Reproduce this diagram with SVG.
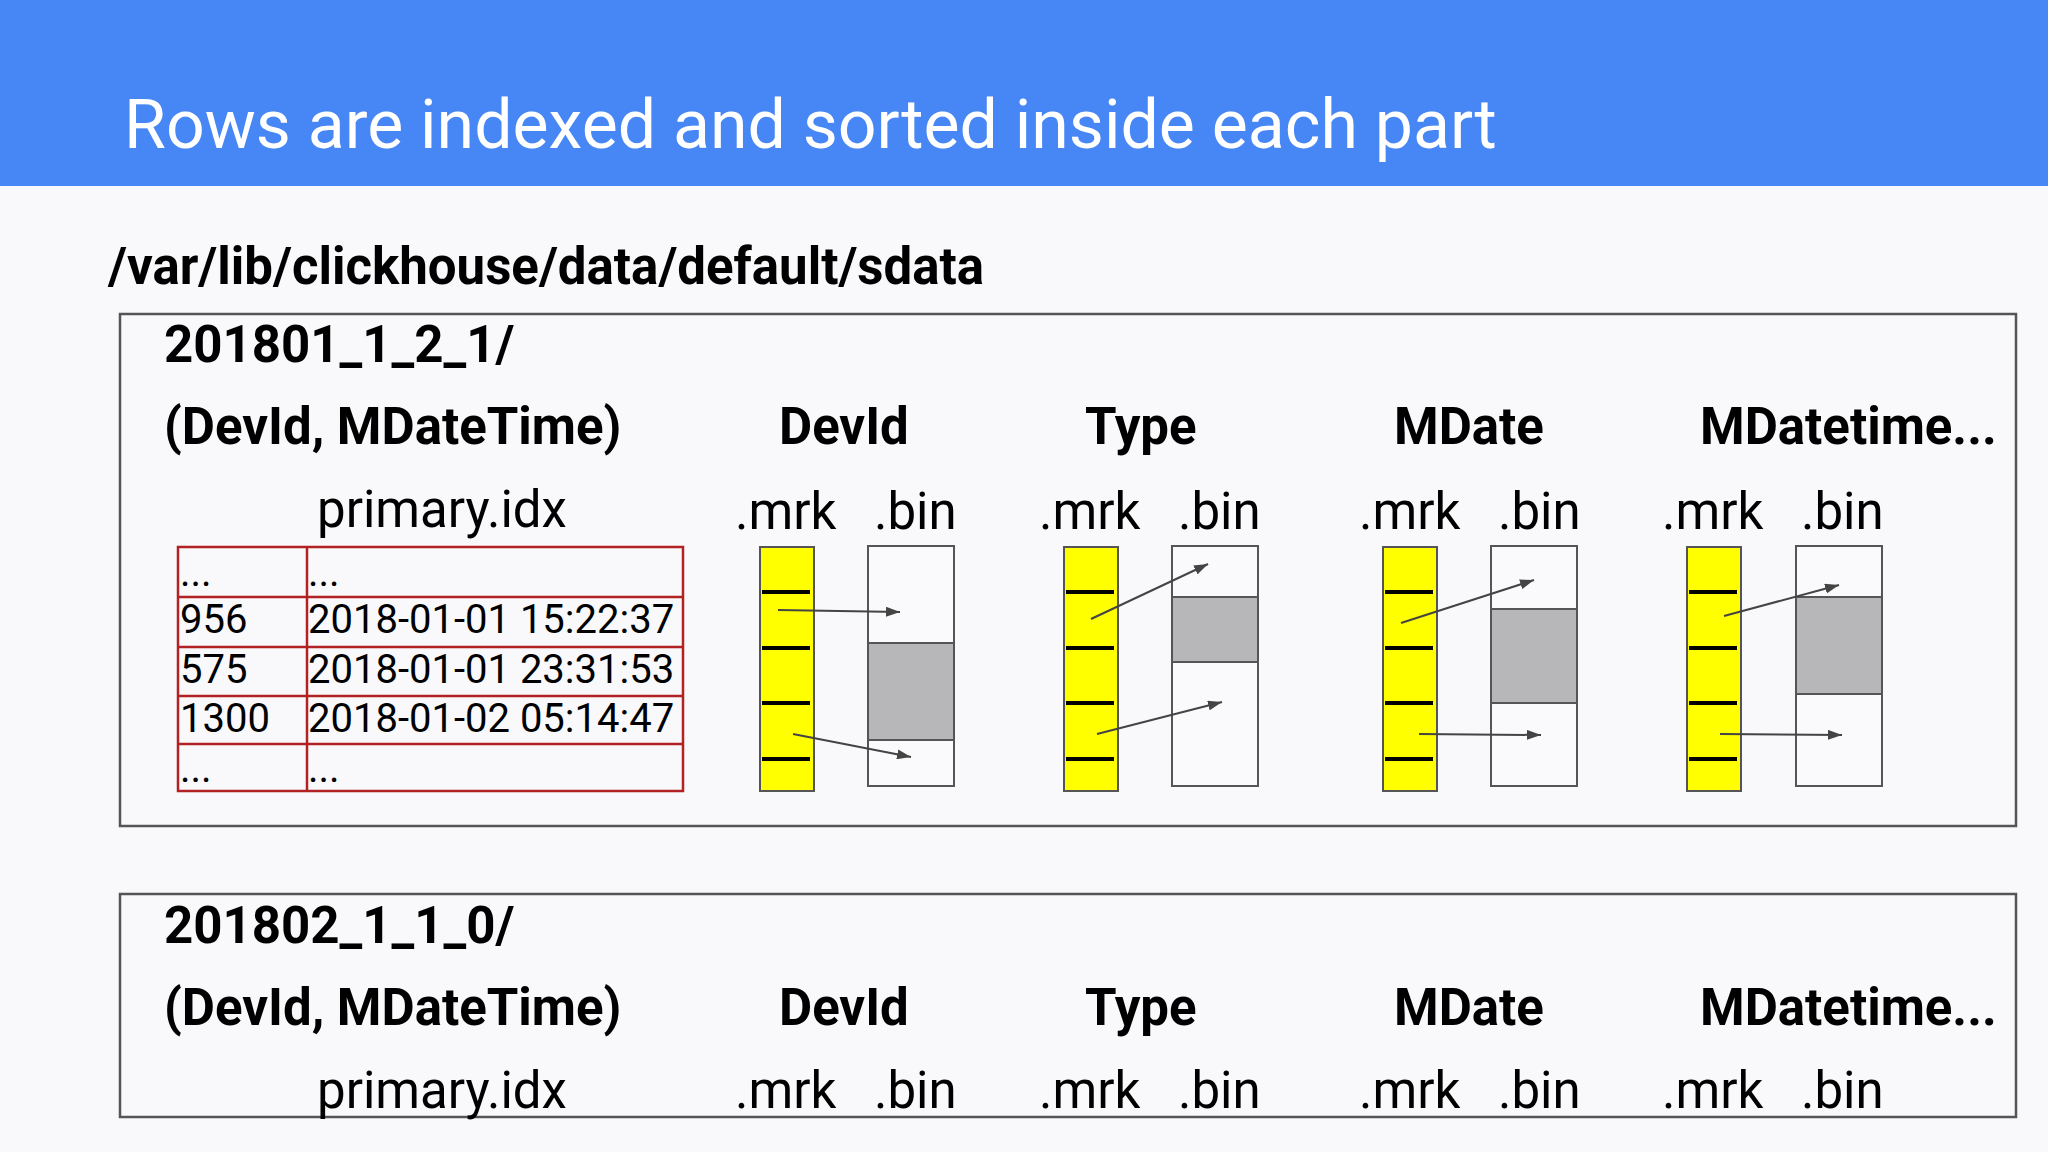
<svg xmlns="http://www.w3.org/2000/svg" width="2048" height="1152" viewBox="0 0 2048 1152">
<defs>
<marker id="ah" viewBox="0 0 14 10" refX="14" refY="5" markerWidth="14" markerHeight="10" markerUnits="userSpaceOnUse" orient="auto">
<path d="M0,0 L14,5 L0,10 Z" fill="#444"/>
</marker>
<style>
.title{font-family:Roboto,"Liberation Sans",sans-serif;font-size:68px;fill:#fff}
.b{font-family:Roboto,"Liberation Sans",sans-serif;font-weight:bold;fill:#000}
.h{font-size:51px}
.r{font-family:Roboto,"Liberation Sans",sans-serif;font-size:51px;fill:#000}
.t{font-family:Roboto,"Liberation Sans",sans-serif;font-size:40px;fill:#000}
.part{fill:none;stroke:#555;stroke-width:2.5}
.mrk{fill:#ffff00;stroke:#555;stroke-width:2}
.bin{fill:#fafafc;stroke:#555;stroke-width:2}
.gray{fill:#b7b6b8;stroke:#555;stroke-width:2}
.tick{stroke:#000;stroke-width:4}
.arr{stroke:#444;stroke-width:2;fill:none;marker-end:url(#ah)}
.tbl{fill:none;stroke:#b22222;stroke-width:2.5}
</style>
</defs>
<rect x="0" y="0" width="2048" height="1152" fill="#f9f9fb"/>
<rect x="0" y="0" width="2048" height="186" fill="#4786f5"/>
<text class="title" x="124" y="148">Rows are indexed and sorted inside each part</text>
<text class="b" x="108" y="284" font-size="51">/var/lib/clickhouse/data/default/sdata</text>

<g id="part1">
<rect class="part" x="120" y="314" width="1896" height="512"/>
<text class="b h" x="164" y="362">201801_1_2_1/</text>
<text class="b h" x="164" y="444">(DevId, MDateTime)</text>
<text class="r" x="317" y="527">primary.idx</text>
</g>

<g id="primary-idx">
<rect class="tbl" x="178" y="547" width="505" height="244"/>
<line class="tbl" x1="307" y1="547" x2="307" y2="791"/>
<line class="tbl" x1="178" y1="597" x2="683" y2="597"/>
<line class="tbl" x1="178" y1="647" x2="683" y2="647"/>
<line class="tbl" x1="178" y1="696" x2="683" y2="696"/>
<line class="tbl" x1="178" y1="744" x2="683" y2="744"/>
<text class="t" x="180" y="586">...</text><text class="t" x="308" y="586">...</text>
<text class="t" x="180" y="633">956</text><text class="t" x="308" y="633">2018-01-01 15:22:37</text>
<text class="t" x="180" y="683">575</text><text class="t" x="308" y="683">2018-01-01 23:31:53</text>
<text class="t" x="180" y="732">1300</text><text class="t" x="308" y="732">2018-01-02 05:14:47</text>
<text class="t" x="180" y="782">...</text><text class="t" x="308" y="782">...</text>
</g>

<g id="col-devid">
<text class="b h" x="779" y="444">DevId</text>
<text class="r" x="735" y="529">.mrk</text><text class="r" x="874" y="529">.bin</text>
<rect class="mrk" x="760" y="547" width="54" height="244"/>
<line class="tick" x1="762" y1="592" x2="810" y2="592"/><line class="tick" x1="762" y1="648" x2="810" y2="648"/><line class="tick" x1="762" y1="703" x2="810" y2="703"/><line class="tick" x1="762" y1="759" x2="810" y2="759"/>
<rect class="bin" x="868" y="546" width="86" height="240"/>
<rect class="gray" x="868" y="643" width="86" height="97"/>
</g>

<g id="col-type">
<text class="b h" x="1085" y="444">Type</text>
<text class="r" x="1039" y="529">.mrk</text><text class="r" x="1178" y="529">.bin</text>
<rect class="mrk" x="1064" y="547" width="54" height="244"/>
<line class="tick" x1="1066" y1="592" x2="1114" y2="592"/><line class="tick" x1="1066" y1="648" x2="1114" y2="648"/><line class="tick" x1="1066" y1="703" x2="1114" y2="703"/><line class="tick" x1="1066" y1="759" x2="1114" y2="759"/>
<rect class="bin" x="1172" y="546" width="86" height="240"/>
<rect class="gray" x="1172" y="597" width="86" height="65"/>
</g>

<g id="col-mdate">
<text class="b h" x="1394" y="444">MDate</text>
<text class="r" x="1359" y="529">.mrk</text><text class="r" x="1498" y="529">.bin</text>
<rect class="mrk" x="1383" y="547" width="54" height="244"/>
<line class="tick" x1="1385" y1="592" x2="1433" y2="592"/><line class="tick" x1="1385" y1="648" x2="1433" y2="648"/><line class="tick" x1="1385" y1="703" x2="1433" y2="703"/><line class="tick" x1="1385" y1="759" x2="1433" y2="759"/>
<rect class="bin" x="1491" y="546" width="86" height="240"/>
<rect class="gray" x="1491" y="609" width="86" height="94"/>
</g>

<g id="col-mdatetime">
<text class="b h" x="1700" y="444">MDatetime...</text>
<text class="r" x="1662" y="529">.mrk</text><text class="r" x="1801" y="529">.bin</text>
<rect class="mrk" x="1687" y="547" width="54" height="244"/>
<line class="tick" x1="1689" y1="592" x2="1737" y2="592"/><line class="tick" x1="1689" y1="648" x2="1737" y2="648"/><line class="tick" x1="1689" y1="703" x2="1737" y2="703"/><line class="tick" x1="1689" y1="759" x2="1737" y2="759"/>
<rect class="bin" x="1796" y="546" width="86" height="240"/>
<rect class="gray" x="1796" y="597" width="86" height="97"/>
</g>

<g id="connectors">
<line class="arr" x1="778" y1="610" x2="900" y2="612"/>
<line class="arr" x1="793" y1="734" x2="911" y2="757"/>
<line class="arr" x1="1091" y1="619" x2="1208" y2="564"/>
<line class="arr" x1="1097" y1="734" x2="1222" y2="702"/>
<line class="arr" x1="1401" y1="623" x2="1534" y2="580"/>
<line class="arr" x1="1419" y1="734" x2="1541" y2="735"/>
<line class="arr" x1="1724" y1="616" x2="1839" y2="585"/>
<line class="arr" x1="1720" y1="734" x2="1842" y2="735"/>
</g>

<g id="part2">
<rect class="part" x="120" y="894" width="1896" height="223"/>
<text class="b h" x="164" y="943">201802_1_1_0/</text>
<text class="b h" x="164" y="1025">(DevId, MDateTime)</text>
<text class="r" x="317" y="1108">primary.idx</text>
<text class="b h" x="779" y="1025">DevId</text>
<text class="b h" x="1085" y="1025">Type</text>
<text class="b h" x="1394" y="1025">MDate</text>
<text class="b h" x="1700" y="1025">MDatetime...</text>
<text class="r" x="735" y="1108">.mrk</text><text class="r" x="874" y="1108">.bin</text>
<text class="r" x="1039" y="1108">.mrk</text><text class="r" x="1178" y="1108">.bin</text>
<text class="r" x="1359" y="1108">.mrk</text><text class="r" x="1498" y="1108">.bin</text>
<text class="r" x="1662" y="1108">.mrk</text><text class="r" x="1801" y="1108">.bin</text>
</g>
</svg>
